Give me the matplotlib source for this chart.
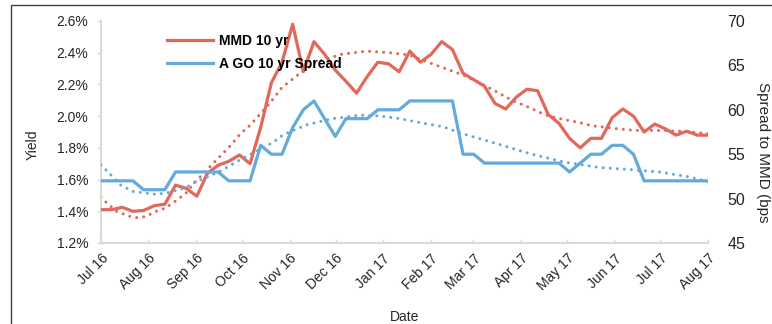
import numpy as np
import pandas as pd
import matplotlib
matplotlib.use('Agg')
from matplotlib import pyplot as plt
from matplotlib.patches import Rectangle
from matplotlib.ticker import FuncFormatter

plt.rcParams['font.family'] = ['Liberation Sans', 'DejaVu Sans']

# weekly MMD 10 yr yield (%) and A GO 10 yr spread to MMD (bps)
mmd_10yr = [1.41, 1.41, 1.425, 1.40, 1.405, 1.435, 1.445, 1.565, 1.545, 1.495,
            1.64, 1.69, 1.715, 1.755, 1.70, 1.93, 2.21, 2.34, 2.58, 2.28,
            2.47, 2.39, 2.29, 2.22, 2.145, 2.25, 2.34, 2.33, 2.28, 2.41,
            2.34, 2.39, 2.47, 2.42, 2.27, 2.23, 2.19, 2.08, 2.045, 2.12,
            2.17, 2.16, 2.01, 1.955, 1.86, 1.80, 1.86, 1.86, 1.99, 2.045,
            2.00, 1.90, 1.95, 1.92, 1.88, 1.905, 1.88, 1.88]
ago_spread = [52, 52, 52, 52, 51, 51, 51, 53, 53, 53,
              53, 53, 52, 52, 52, 56, 55, 55, 58, 60,
              61, 59, 57, 59, 59, 59, 60, 60, 60, 61,
              61, 61, 61, 61, 55, 55, 54, 54, 54, 54,
              54, 54, 54, 54, 53, 54, 55, 55, 56, 56,
              55, 52, 52, 52, 52, 52, 52, 52]
start_date = '2016-07-01'
end_date = '2017-08-01'

# trendline values
mmd_trend_dates = ['2016-07-01', '2016-07-05', '2016-07-11', '2016-07-19', '2016-07-24',
                   '2016-07-30', '2016-08-06', '2016-08-12', '2016-08-18', '2016-08-25',
                   '2016-08-31', '2016-09-11', '2016-09-24', '2016-09-30', '2016-10-06',
                   '2016-10-19', '2016-10-27', '2016-11-05', '2016-11-18', '2016-12-05',
                   '2016-12-21', '2017-01-05', '2017-01-18', '2017-02-05', '2017-02-22',
                   '2017-03-05', '2017-03-16', '2017-03-26', '2017-04-06', '2017-04-17',
                   '2017-04-28', '2017-05-09', '2017-05-17', '2017-06-03', '2017-06-15',
                   '2017-06-30', '2017-07-15', '2017-08-01']
mmd_trend = [1.49, 1.45, 1.40, 1.37, 1.36,
             1.366, 1.40, 1.42, 1.46, 1.51,
             1.58, 1.69, 1.82, 1.89, 1.94,
             2.08, 2.18, 2.25, 2.34, 2.39,
             2.41, 2.40, 2.386, 2.32, 2.26,
             2.21, 2.154, 2.10, 2.056, 2.007,
             1.98, 1.96, 1.94, 1.92, 1.91,
             1.91, 1.905, 1.89]
ago_trend_dates = ['2016-07-01', '2016-07-05', '2016-07-14', '2016-07-22', '2016-08-05',
                   '2016-08-12', '2016-08-25', '2016-08-31', '2016-09-17', '2016-09-29',
                   '2016-10-21', '2016-10-28', '2016-11-12', '2016-11-29', '2016-12-17',
                   '2016-12-30', '2017-01-12', '2017-01-27', '2017-02-09', '2017-02-22',
                   '2017-03-16', '2017-04-06', '2017-04-28', '2017-05-22', '2017-06-09',
                   '2017-06-30', '2017-07-18', '2017-08-01']
ago_trend = [53.8, 53.1, 51.5, 50.8, 50.5,
             50.6, 51.2, 51.8, 53.1, 54.3,
             56.3, 57.2, 58.3, 59.0, 59.4,
             59.3, 59.0, 58.5, 58.1, 57.3,
             56.2, 55.1, 54.15, 53.5, 53.3,
             53.0, 52.5, 51.9]

RED = '#E2685A'
BLUE = '#64AADC'
GRID = '#D9D9D9'
TXT = '#262626'
DOTS = (0, (0.01, 2.3))

dates = pd.date_range(start_date, end_date, periods=len(mmd_10yr))

fig = plt.figure(figsize=(7.72, 3.24), dpi=100)
ax = fig.add_axes([0.1308, 0.25, 0.7863, 0.6852])
ax2 = ax.twinx()

ax.plot(dates, mmd_10yr, color=RED, lw=2.3, label='MMD 10 yr', zorder=3)
ax.plot(pd.to_datetime(mmd_trend_dates), mmd_trend, color=RED, lw=2.2,
        linestyle=DOTS, dash_capstyle='round', zorder=2)
ax2.plot(dates, ago_spread, color=BLUE, lw=2.3, label='A GO 10 yr Spread', zorder=3)
ax2.plot(pd.to_datetime(ago_trend_dates), ago_trend, color=BLUE, lw=2.2,
         linestyle=DOTS, dash_capstyle='round', zorder=2)

ax.set_xlim(pd.Timestamp(start_date), pd.Timestamp(end_date))
ax.set_ylim(1.2, 2.6)
ax2.set_ylim(45, 70)

ax.set_yticks(np.arange(1.2, 2.61, 0.2))
ax.yaxis.set_major_formatter(FuncFormatter(lambda v, p: '{:.1f}%'.format(v)))
ax2.set_yticks(range(45, 71, 5))

months = pd.date_range(start_date, end_date, freq='MS')
ax.set_xticks(months)
ax.set_xticklabels([m.strftime('%b %y') for m in months], rotation=45,
                   ha='right', rotation_mode='anchor', fontsize=10, color=TXT)

for a in (ax, ax2):
    for s in a.spines.values():
        s.set_visible(False)
for side in ('left', 'bottom'):
    ax.spines[side].set_visible(True)
    ax.spines[side].set_color(GRID)
    ax.spines[side].set_linewidth(1.5)

ax.tick_params(axis='y', direction='out', length=3, width=1, color=GRID,
               labelsize=10, labelcolor=TXT, pad=6)
ax.tick_params(axis='x', direction='in', length=3, width=1, color=GRID, pad=6)
ax2.tick_params(axis='y', length=0, labelsize=11.5, labelcolor=TXT, pad=14)

ax.set_xlabel('Date', fontsize=10, color=TXT, labelpad=12)
fig.text(33 / 772, 1 - 145 / 324, 'Yield', rotation=90, fontsize=10,
         color=TXT, ha='center', va='center')
fig.text(763 / 772, 1 - 152 / 324, 'Spread to MMD (bps', rotation=270,
         fontsize=11, color=TXT, ha='center', va='center')

h1, l1 = ax.get_legend_handles_labels()
h2, l2 = ax2.get_legend_handles_labels()
leg = ax2.legend(h1 + h2, l1 + l2, loc='upper left', bbox_to_anchor=(0.109, 0.94),
                 frameon=False, handlelength=3.3, handletextpad=0.4,
                 labelspacing=0.6, borderaxespad=0, borderpad=0,
                 prop={'weight': 'bold', 'size': 10})
for txt in leg.get_texts():
    txt.set_color('black')

# chart border
fig.add_artist(Rectangle((10.5 / 772, -0.05), 1.0, 1.05 - 5.5 / 324,
                         transform=fig.transFigure, fill=False,
                         edgecolor='#404040', lw=1.0))

plt.savefig('out.png', dpi=100)
plt.close()
